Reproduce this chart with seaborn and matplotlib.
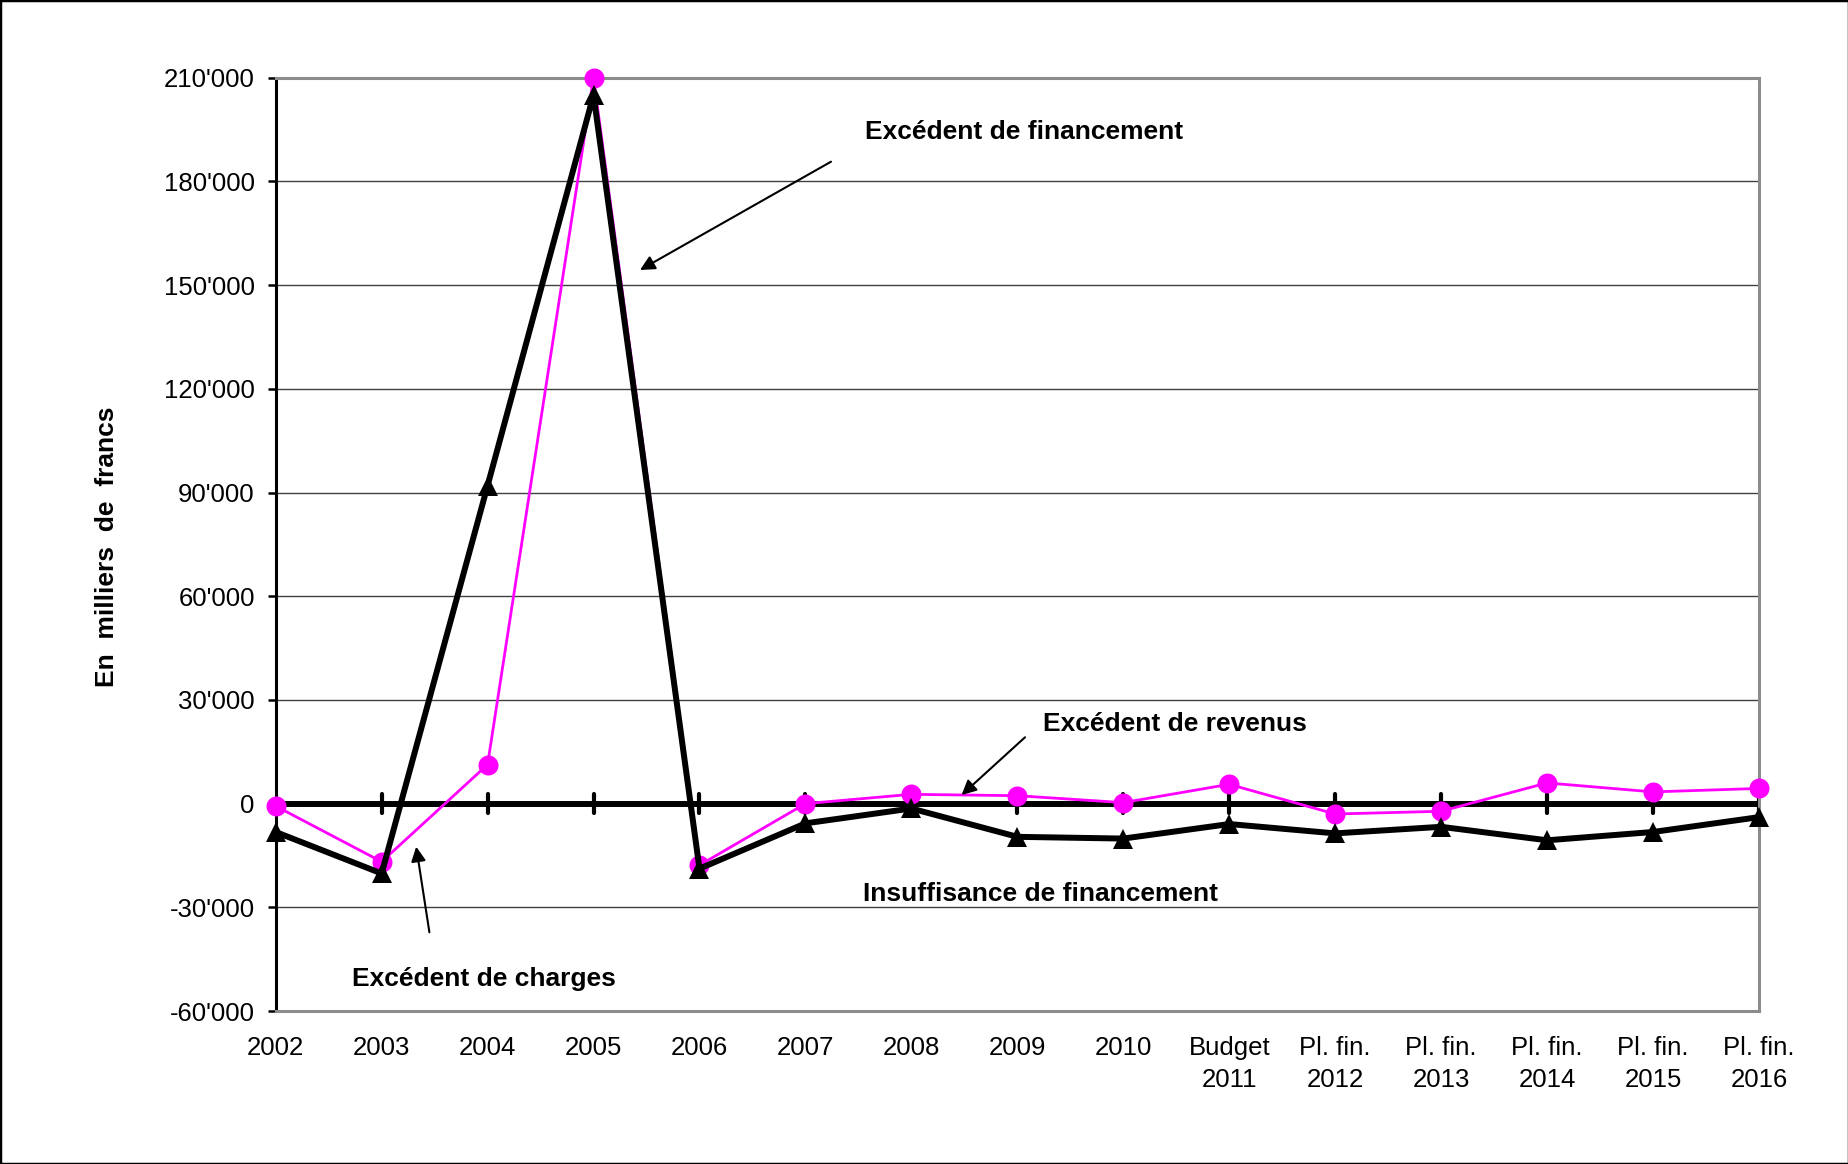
import matplotlib
matplotlib.use("Agg")
import matplotlib.pyplot as plt
import seaborn as sns
import pandas as pd
from matplotlib.patches import Rectangle
from matplotlib.ticker import FuncFormatter, MultipleLocator

# periodes (comptes, budget, plan financier)
periodes = ['2002', '2003', '2004', '2005', '2006', '2007', '2008', '2009', '2010',
            'Budget\n2011', 'Pl. fin.\n2012', 'Pl. fin.\n2013', 'Pl. fin.\n2014',
            'Pl. fin.\n2015', 'Pl. fin.\n2016']
# excedent de revenus / charges (en milliers de francs)
resultat = [-700, -16800, 11300, 210000, -17800, 0, 2700, 2300, 300,
            5600, -3000, -2200, 6000, 3400, 4400]
# excedent / insuffisance de financement
financement = [-8200, -20200, 92000, 205000, -18800, -5700, -1400, -9600, -10100,
               -5900, -8600, -6700, -10600, -8200, -3900]

df = pd.DataFrame({'periode': periodes, 'resultat': resultat, 'financement': financement})

sns.set_style('white')
plt.rcParams['font.family'] = ['Liberation Sans', 'DejaVu Sans']
plt.rcParams['text.color'] = 'black'
plt.rcParams['xtick.color'] = 'black'
plt.rcParams['ytick.color'] = 'black'

fig = plt.figure(figsize=(18.49, 11.64), dpi=100)
ax = fig.add_axes([0.1491, 0.1314, 0.8022, 0.8018])

# axe des categories a zero, avec graduations croisees
ax.axhline(0, color='black', lw=4.3, zorder=2)
tk = ax.vlines(df['periode'], -2750, 2750, color='black', lw=3, zorder=2)
tk.set_capstyle('round')

sns.lineplot(data=df, x='periode', y='resultat', sort=False, color='#FF00FF',
             lw=2, marker='o', markersize=14.4, markeredgewidth=0, ax=ax,
             zorder=3, clip_on=False)
sns.lineplot(data=df, x='periode', y='financement', sort=False, color='black',
             lw=4.3, marker='^', markersize=14.4, markeredgewidth=0, ax=ax,
             zorder=4, clip_on=False)

ax.set_xlim(0, len(periodes) - 1)
ax.set_ylim(-60000, 210000)
ax.yaxis.set_major_locator(MultipleLocator(30000))
ax.yaxis.set_major_formatter(FuncFormatter(lambda v, p: '{:,.0f}'.format(v).replace(',', "'")))
ax.yaxis.grid(True, color='#404040', lw=1, zorder=1)
ax.set_axisbelow(True)

ax.set_xlabel('')
ax.set_ylabel('')
ax.tick_params(axis='x', length=0, pad=18, labelsize=18.5, labelcolor='black')
ax.tick_params(axis='y', left=True, length=6, width=1.8, color='black', pad=9,
               labelsize=18.5, labelcolor='black')
for lab in ax.get_xticklabels():
    lab.set_linespacing(1.4)

ax.spines['left'].set_color('black')
ax.spines['left'].set_linewidth(2.2)
for s in ['top', 'right', 'bottom']:
    ax.spines[s].set_color('#8c8c8c')
    ax.spines[s].set_linewidth(2.2)

fig.text(106.7 / 1849, 1 - 547 / 1164, 'En  milliers  de  francs', rotation=90,
         ha='center', va='center', fontsize=19, fontweight='bold', color='black')

# annotations
notes = [('Excédent de financement', (865, 1024.7)),
         ('Excédent de revenus', (1043, 433.3)),
         ('Insuffisance de financement', (862.8, 263)),
         ('Excédent de charges', (352, 178))]
for txt, xy in notes:
    ax.annotate(txt, xy=xy, xycoords='figure pixels', ha='left', va='baseline',
                fontsize=19, fontweight='bold', color='black')

fleches = [((831, 1002.3), (640, 894)),
           ((1025, 426.7), (961.6, 369)),
           ((429.4, 231.7), (416.2, 317.3))]
for depart, pointe in fleches:
    ax.annotate('', xy=pointe, xytext=depart, xycoords='figure pixels',
                textcoords='figure pixels',
                arrowprops=dict(arrowstyle='-|>', color='black', lw=1.5,
                                mutation_scale=22, shrinkA=0, shrinkB=0))

fig.patches.append(Rectangle((0, 0), 1, 1, transform=fig.transFigure, fill=False,
                             edgecolor='black', lw=2.5))

fig.savefig('out.png', dpi=100)
